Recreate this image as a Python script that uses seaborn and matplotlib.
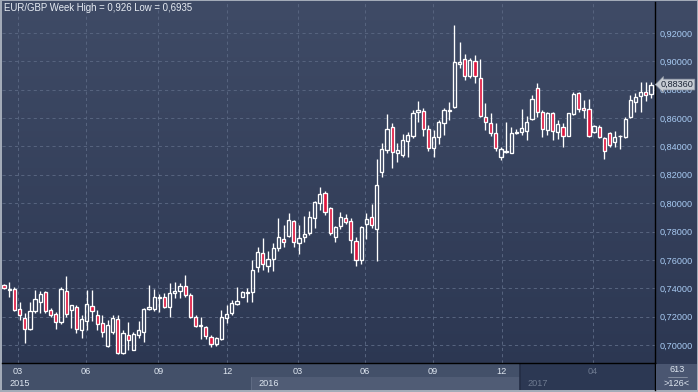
import numpy as np
import pandas as pd
import matplotlib
matplotlib.use('Agg')
import matplotlib.pyplot as plt
from matplotlib.colors import LinearSegmentedColormap
from matplotlib.patches import Rectangle
import seaborn as sns

# weekly EUR/GBP candles, oldest first
opens = [0.7423, 0.7388, 0.7395, 0.7254, 0.7190, 0.7113, 0.7240, 0.7303, 0.7374, 0.7247,
         0.7219, 0.7162, 0.7381, 0.7247, 0.7268, 0.7106, 0.7169, 0.7275, 0.7212, 0.7155,
         0.6993, 0.7092, 0.7183, 0.6944, 0.7071, 0.6965, 0.7071, 0.7092, 0.7254, 0.7254,
         0.7331, 0.7338, 0.7268, 0.7367, 0.7381, 0.7416, 0.7353, 0.7197, 0.7134, 0.7127,
         0.7056, 0.7007, 0.7042, 0.7190, 0.7226, 0.7289, 0.7338, 0.7367, 0.7374, 0.7550,
         0.7649, 0.7557, 0.7606, 0.7684, 0.7747, 0.7769, 0.7874, 0.7719, 0.7761, 0.7790,
         0.7896, 0.8001, 0.8072, 0.7966, 0.7761, 0.7839, 0.7896, 0.7874, 0.7733, 0.7599,
         0.7853, 0.7903, 0.7818, 0.8220, 0.8375, 0.8537, 0.8354, 0.8340, 0.8438, 0.8474,
         0.8643, 0.8650, 0.8523, 0.8389, 0.8467, 0.8565, 0.8650, 0.8678, 0.8984, 0.9017,
         0.8897, 0.9002, 0.8882, 0.8607, 0.8565, 0.8495, 0.8325, 0.8361, 0.8354, 0.8495,
         0.8502, 0.8509, 0.8593, 0.8812, 0.8643, 0.8516, 0.8636, 0.8502, 0.8537, 0.8474,
         0.8629, 0.8777, 0.8671, 0.8664, 0.8502, 0.8537, 0.8460, 0.8495, 0.8431, 0.8470,
         0.8467, 0.8607, 0.8713, 0.8756, 0.8784, 0.8770]
highs = [0.7430, 0.7444, 0.7409, 0.7303, 0.7226, 0.7303, 0.7388, 0.7381, 0.7381, 0.7261,
         0.7233, 0.7409, 0.7487, 0.7282, 0.7282, 0.7212, 0.7388, 0.7388, 0.7247, 0.7212,
         0.7176, 0.7212, 0.7212, 0.7106, 0.7162, 0.7092, 0.7169, 0.7261, 0.7423, 0.7395,
         0.7360, 0.7367, 0.7437, 0.7444, 0.7437, 0.7494, 0.7367, 0.7212, 0.7197, 0.7134,
         0.7071, 0.7056, 0.7247, 0.7282, 0.7317, 0.7409, 0.7381, 0.7402, 0.7599, 0.7691,
         0.7754, 0.7663, 0.7719, 0.7896, 0.7846, 0.7931, 0.7881, 0.7846, 0.7910, 0.7945,
         0.8015, 0.8114, 0.8086, 0.7973, 0.7839, 0.7938, 0.7924, 0.7896, 0.7761, 0.7839,
         0.7931, 0.7994, 0.8311, 0.8424, 0.8629, 0.8565, 0.8424, 0.8488, 0.8502, 0.8657,
         0.8720, 0.8671, 0.8551, 0.8516, 0.8586, 0.8671, 0.8713, 0.9256, 0.9136, 0.9052,
         0.9024, 0.9045, 0.9017, 0.8706, 0.8636, 0.8565, 0.8396, 0.8572, 0.8537, 0.8523,
         0.8664, 0.8615, 0.8763, 0.8847, 0.8657, 0.8643, 0.8643, 0.8586, 0.8565, 0.8636,
         0.8784, 0.8784, 0.8727, 0.8734, 0.8551, 0.8551, 0.8467, 0.8502, 0.8509, 0.8481,
         0.8607, 0.8763, 0.8777, 0.8854, 0.8854, 0.8854]
lows = [0.7395, 0.7338, 0.7240, 0.7176, 0.7014, 0.7106, 0.7226, 0.7226, 0.7226, 0.7197,
        0.7113, 0.7148, 0.7197, 0.7120, 0.7085, 0.7049, 0.7106, 0.7169, 0.7106, 0.7056,
        0.6986, 0.7078, 0.6937, 0.6937, 0.6965, 0.6965, 0.7049, 0.7021, 0.7247, 0.7240,
        0.7233, 0.7261, 0.7197, 0.7331, 0.7331, 0.7338, 0.7190, 0.7127, 0.7042, 0.7042,
        0.6986, 0.6993, 0.7035, 0.7155, 0.7212, 0.7282, 0.7338, 0.7303, 0.7303, 0.7515,
        0.7529, 0.7515, 0.7522, 0.7663, 0.7691, 0.7761, 0.7691, 0.7642, 0.7726, 0.7776,
        0.7825, 0.7952, 0.7917, 0.7776, 0.7726, 0.7818, 0.7853, 0.7649, 0.7557, 0.7571,
        0.7747, 0.7825, 0.7592, 0.8184, 0.8354, 0.8248, 0.8290, 0.8325, 0.8325, 0.8460,
        0.8572, 0.8474, 0.8368, 0.8325, 0.8417, 0.8481, 0.8586, 0.8671, 0.8953, 0.8868,
        0.8882, 0.8847, 0.8607, 0.8516, 0.8474, 0.8368, 0.8304, 0.8354, 0.8354, 0.8488,
        0.8481, 0.8445, 0.8586, 0.8607, 0.8467, 0.8481, 0.8445, 0.8452, 0.8396, 0.8474,
        0.8622, 0.8643, 0.8600, 0.8467, 0.8495, 0.8460, 0.8311, 0.8396, 0.8396, 0.8382,
        0.8460, 0.8600, 0.8643, 0.8643, 0.8720, 0.8741]
closes = [0.7402, 0.7395, 0.7247, 0.7212, 0.7113, 0.7240, 0.7324, 0.7360, 0.7240, 0.7212,
          0.7162, 0.7395, 0.7219, 0.7282, 0.7113, 0.7183, 0.7289, 0.7240, 0.7148, 0.7092,
          0.7141, 0.7190, 0.6944, 0.7085, 0.7035, 0.7078, 0.7106, 0.7254, 0.7268, 0.7338,
          0.7338, 0.7268, 0.7367, 0.7381, 0.7416, 0.7353, 0.7197, 0.7134, 0.7141, 0.7063,
          0.7007, 0.7049, 0.7197, 0.7219, 0.7296, 0.7310, 0.7374, 0.7374, 0.7529, 0.7656,
          0.7571, 0.7606, 0.7684, 0.7761, 0.7726, 0.7881, 0.7726, 0.7754, 0.7783, 0.7903,
          0.8008, 0.8065, 0.7938, 0.7790, 0.7832, 0.7903, 0.7867, 0.7740, 0.7599, 0.7832,
          0.7889, 0.7846, 0.8128, 0.8382, 0.8523, 0.8361, 0.8375, 0.8445, 0.8481, 0.8636,
          0.8657, 0.8523, 0.8389, 0.8467, 0.8572, 0.8657, 0.8657, 0.8995, 0.8992, 0.8897,
          0.9010, 0.8897, 0.8615, 0.8572, 0.8495, 0.8389, 0.8382, 0.8368, 0.8495, 0.8502,
          0.8530, 0.8572, 0.8734, 0.8643, 0.8523, 0.8636, 0.8509, 0.8558, 0.8474, 0.8636,
          0.8770, 0.8664, 0.8657, 0.8474, 0.8544, 0.8467, 0.8368, 0.8410, 0.8467, 0.8474,
          0.8593, 0.8727, 0.8748, 0.8784, 0.8763, 0.8836]

month_labels = ['03', '06', '09', '12', '03', '06', '09', '12', '04']
month_pos = [2.7, 15.8, 29.8, 43.1, 56.8, 69.7, 82.9, 96.2, 113.8]
year_labels = ['2015', '2016', '2017']
year_start = [-0.39, 47.7, 99.7]
price_ticks = [0.70, 0.72, 0.74, 0.76, 0.78, 0.80, 0.82, 0.84, 0.86, 0.88, 0.90, 0.92]
last_price = 0.8836
title = 'EUR/GBP Week High = 0,926 Low = 0,6935'

df = pd.DataFrame({'open': opens, 'high': highs, 'low': lows, 'close': closes})
df['x'] = np.arange(len(df))
df['up'] = df['close'] >= df['open']
df['top'] = df[['open', 'close']].max(axis=1)
df['bot'] = df[['open', 'close']].min(axis=1)
df['body'] = (df['top'] - df['bot']).clip(lower=0.0006)

sns.set_theme(style='dark')
plt.rcParams['font.family'] = ['Liberation Sans', 'DejaVu Sans']

W, H = 698, 392
fig = plt.figure(figsize=(W / 100, H / 100), dpi=100)
fig.patch.set_facecolor('#a3abb8')

# gradient background behind everything
bg = fig.add_axes([2 / W, 2 / H, 695 / W, 389 / H], zorder=0)
grad = LinearSegmentedColormap.from_list('bg', ['#3f4b66', '#2b3651'])
bg.imshow(np.linspace(0, 1, 256).reshape(-1, 1), aspect='auto', cmap=grad,
          extent=[0, 1, 0, 1])
bg.axis('off')

ax = fig.add_axes([2 / W, 29 / H, 653 / W, 361 / H], zorder=2)
ax.set_facecolor('none')
xlim = (-0.39, 125.77)
ax.set_xlim(xlim)
ax.set_ylim(0.6873, 0.9418)

# candles
ax.vlines(df['x'], df['top'], df['high'], color='white', lw=0.95, zorder=3)
ax.vlines(df['x'], df['low'], df['bot'], color='white', lw=0.95, zorder=3)
ax.bar(df['x'], df['body'], bottom=df['bot'], width=0.62,
       color=np.where(df['up'], 'none', '#e0153d'),
       edgecolor='white', linewidth=0.95, zorder=4)

ax.set_xticks(month_pos)
ax.set_xticklabels([])
ax.set_yticks(price_ticks)
ax.set_yticklabels([f'{v:.5f}'.replace('.', ',') for v in price_ticks])
ax.yaxis.tick_right()
ax.tick_params(axis='x', length=0)
ax.tick_params(axis='y', length=0, pad=3, labelsize=6.6, labelcolor='#a8cbf3')
ax.grid(True, color='#56637e', lw=0.75, linestyle=(0, (3, 3)))
for s in ['left', 'top']:
    ax.spines[s].set_visible(False)
for s in ['right', 'bottom']:
    ax.spines[s].set_color('black')
    ax.spines[s].set_linewidth(1.0)

# last price tag, sitting over the 0,88000 label as in the source
ax.text(1.0 + 6 / 653, last_price, f'{last_price:.5f}'.replace('.', ','),
        transform=ax.get_yaxis_transform(), ha='left', va='center',
        fontsize=6.6, color='#1b2436', zorder=6, clip_on=False,
        bbox=dict(boxstyle='larrow,pad=0.1', fc='#c6cbd3', ec='#8e97a5', lw=0.5))

# time band below the chart
ax2 = fig.add_axes([2 / W, 2 / H, 653 / W, 27 / H], zorder=1)
ax2.set_xlim(xlim)
ax2.set_ylim(0, 1)
ax2.set_facecolor('#435069')
ax2.axvspan(year_start[1], year_start[2], 0, 0.5, color='#505c75', lw=0)
ax2.axvspan(year_start[2], xlim[1], 0, 1, color='#2c3853', lw=0)
ax2.axvline(year_start[1], 0, 0.5, color='#5f6b83', lw=0.8)
ax2.axvline(year_start[2], 0, 1, color='#232d44', lw=1.2)
ax2.set_xticks([])
ax2.set_yticks([])
for s in ['left', 'top', 'bottom']:
    ax2.spines[s].set_visible(False)
ax2.spines['right'].set_color('black')
ax2.spines['right'].set_linewidth(1.0)

for p, lab in zip(month_pos, month_labels):
    col = '#6e7a90' if p > year_start[2] else '#dde5ef'
    ax2.text(p, 0.70, lab, ha='center', va='center', fontsize=6.6, color=col)
for s, lab in zip(year_start, year_labels):
    col = '#6e7a90' if s >= year_start[2] else '#dde5ef'
    ax2.text(s + 1.5, 0.25, lab, ha='left', va='center', fontsize=6.6, color=col)

# corner box with bar counter
fig.patches.append(Rectangle((656 / W, 2 / H), 41 / W, 26 / H, transform=fig.transFigure,
                             facecolor='#4a5671', edgecolor='none', zorder=1))
fig.text(677 / W, 1 - 370 / H, '613', ha='center', va='center', fontsize=6.6, color='#dde5ef')
fig.lines.append(plt.Line2D([668 / W, 687 / W], [1 - 377 / H, 1 - 377 / H],
                            transform=fig.transFigure, color='#8d97a8', lw=0.6))
fig.text(677 / W, 1 - 384 / H, '>126<', ha='center', va='center', fontsize=6.6, color='#dde5ef')

fig.text(4 / W, 1 - 3 / H, title, ha='left', va='top', fontsize=6.9, color='#e8edf4')

plt.savefig('out.png', dpi=100, facecolor=fig.get_facecolor())
